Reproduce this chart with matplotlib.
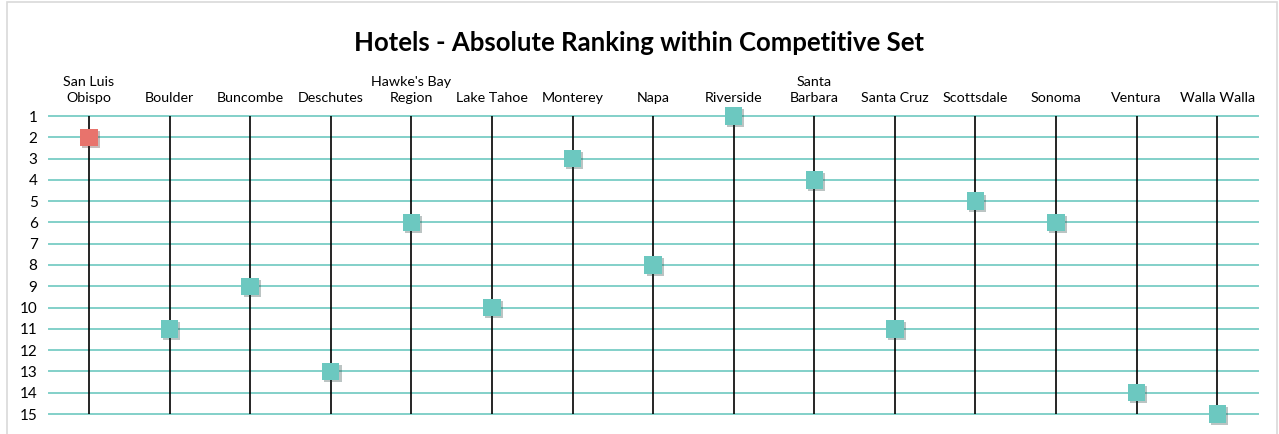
import matplotlib
matplotlib.use("Agg")
import matplotlib.pyplot as plt
import matplotlib.patheffects as pe
from matplotlib.patches import Rectangle
import numpy as np

plt.rcParams['font.family'] = ['Lato', 'DejaVu Sans']

categories = ["San Luis\nObispo", "Boulder", "Buncombe", "Deschutes", "Hawke's Bay\nRegion",
              "Lake Tahoe", "Monterey", "Napa", "Riverside", "Santa\nBarbara",
              "Santa Cruz", "Scottsdale", "Sonoma", "Ventura", "Walla Walla"]
ranks = [2, 11, 9, 13, 6, 10, 3, 8, 1, 4, 11, 5, 6, 14, 15]
highlight = "San Luis\nObispo"

teal = "#6cc8c0"
red = "#e8736c"

fig = plt.figure(figsize=(12.79, 4.34), dpi=100)
# light frame around the chart
fig.patches.append(Rectangle((7/1279, -0.01), 1270/1279, 1 - 2/434 + 0.01,
                             transform=fig.transFigure, fill=False,
                             edgecolor="#d9d9d9", linewidth=1.2))
ax = fig.add_axes([48.7/1279, 20/434, (1257.5-48.7)/1279, (414-116)/434])

x = np.arange(len(categories))
ax.set_xlim(-0.5, len(categories) - 0.5)
ax.set_ylim(15, 1)

# horizontal grid lines
for r in range(1, 16):
    ax.axhline(r, color=teal, linewidth=1.4, alpha=0.85, zorder=1, clip_on=False)
# vertical lines
ax.vlines(x, 1, 15, color="black", linewidth=1.2, zorder=2)

colors = [red if c == highlight else teal for c in categories]
shadow = [pe.SimplePatchShadow(offset=(1.5, -1.5), alpha=0.3), pe.Normal()]
for xi, r, c in zip(x, ranks, colors):
    ax.plot(xi, r, marker="s", markersize=12.5, color=c, markeredgewidth=0,
            linestyle="none", zorder=3, clip_on=False, path_effects=shadow)

ax.set_yticks(range(1, 16))
ax.set_yticklabels([str(i) for i in range(1, 16)], fontsize=11)
ax.tick_params(axis="y", length=0, pad=8)
ax.xaxis.tick_top()
ax.set_xticks(x)
ax.set_xticklabels(categories, fontsize=10.3, linespacing=1.3)
ax.tick_params(axis="x", length=0, pad=9)
for s in ax.spines.values():
    s.set_visible(False)

fig.text(0.5, 1 - 43/434, "Hotels - Absolute Ranking within Competitive Set",
         ha="center", va="center", fontsize=18.5, fontweight="bold")

fig.savefig("out.png", dpi=100)
